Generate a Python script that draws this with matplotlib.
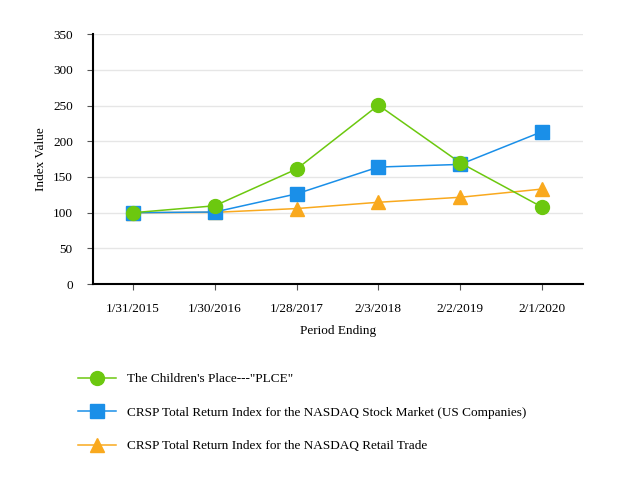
import matplotlib
matplotlib.use("Agg")
import matplotlib.pyplot as plt

plt.rcParams["font.family"] = ["Liberation Serif", "DejaVu Serif"]

PERIODS = ["1/31/2015", "1/30/2016", "1/28/2017", "2/3/2018", "2/2/2019", "2/1/2020"]
PLCE = [100, 109.7, 161.1, 250.5, 169.9, 107.9]
NASDAQ_US = [100, 101.0, 126.4, 163.9, 167.6, 213.4]
NASDAQ_RETAIL = [100, 100.5, 105.8, 114.6, 121.6, 133.1]

SERIES = [
    ('The Children\'s Place---"PLCE"', PLCE, "#6CC80F", "o", 10),
    ("CRSP Total Return Index for the NASDAQ Stock Market (US Companies)", NASDAQ_US, "#1A8FE8", "s", 10),
    ("CRSP Total Return Index for the NASDAQ Retail Trade", NASDAQ_RETAIL, "#F9A91E", "^", 10),
]

fig = plt.figure(figsize=(6.17, 4.80), dpi=100)
ax = fig.add_axes([0.1507, 0.408, 0.794, 0.521])

x = list(range(len(PERIODS)))
# draw in reverse so green sits on top
for label, vals, color, marker, ms in reversed(SERIES):
    ax.plot(x, vals, color=color, marker=marker, markersize=ms, linewidth=1.1,
            label=label, markeredgecolor=color)

ax.set_xlim(-0.49, 5.5)
ax.set_ylim(0, 350)
ax.set_yticks(range(0, 351, 50))
ax.set_xticks(x)
ax.set_xticklabels(PERIODS)
ax.tick_params(axis="both", labelsize=9.5, color="#555555", length=4.5)
ax.tick_params(axis="x", pad=9)
ax.tick_params(axis="y", pad=10)
ax.grid(axis="y", color="#e6e6e6", linewidth=1)
ax.set_axisbelow(True)
for side in ["top", "right"]:
    ax.spines[side].set_visible(False)
for side in ["left", "bottom"]:
    ax.spines[side].set_linewidth(1.5)
    ax.spines[side].set_color("black")

ax.set_ylabel("Index Value", fontsize=9.5, labelpad=4)
ax.set_xlabel("Period Ending", fontsize=9.5, labelpad=7)

handles, labels = ax.get_legend_handles_labels()
fig.legend(handles[::-1], labels[::-1], loc="upper left", bbox_to_anchor=(0.118, 0.234),
           frameon=False, fontsize=9.5, handlelength=2.9, handletextpad=0.8,
           labelspacing=1.62, borderaxespad=0)

fig.savefig("out.png", dpi=100)
